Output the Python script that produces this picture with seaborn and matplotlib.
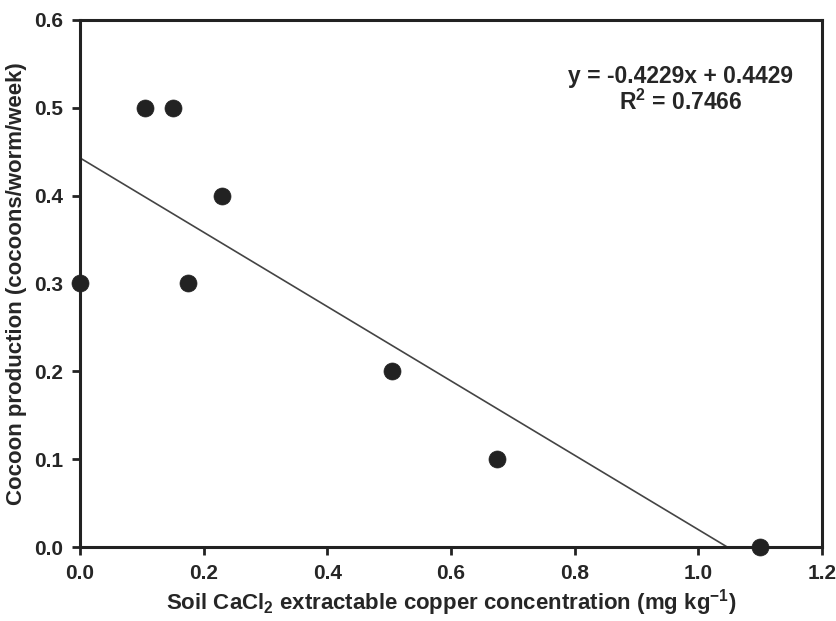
import numpy as np
import pandas as pd
import seaborn as sns
import matplotlib.pyplot as plt

# Данные
copper = [0.0, 0.105, 0.15, 0.175, 0.23, 0.505, 0.675, 1.10]
cocoons = [0.3, 0.5, 0.5, 0.3, 0.4, 0.2, 0.1, 0.0]
slope = -0.4229
intercept = 0.4429
r2 = 0.7466

x_ticks = [0.0, 0.2, 0.4, 0.6, 0.8, 1.0, 1.2]
y_ticks = [0.0, 0.1, 0.2, 0.3, 0.4, 0.5, 0.6]

sns.set_theme(style="ticks")
plt.rcParams["font.family"] = ["Liberation Sans", "DejaVu Sans"]
plt.rcParams["font.weight"] = "bold"
plt.rcParams["mathtext.fontset"] = "custom"
plt.rcParams["mathtext.rm"] = "Liberation Sans:bold"
plt.rcParams["mathtext.default"] = "rm"

df = pd.DataFrame({"x": copper, "y": cocoons})

# Линия регрессии до пересечения с осью X
x_end = -intercept / slope
fit = pd.DataFrame({"x": [0.0, x_end]})
fit["y"] = slope * fit["x"] + intercept

fig = plt.figure(figsize=(8.36, 6.21), dpi=100)
ax = fig.add_axes([0.0957, 0.119, 0.8873, 0.849])

sns.lineplot(data=fit, x="x", y="y", ax=ax, color="#444444", linewidth=1.2)
sns.scatterplot(data=df, x="x", y="y", ax=ax, color="#222222", s=150,
                edgecolor="#222222", linewidth=0.5, zorder=5, clip_on=False)

ax.set_xlim(0, 1.2)
ax.set_ylim(0, 0.6)
ax.set_xticks(x_ticks)
ax.set_yticks(y_ticks)
ax.set_xticklabels([f"{v:.1f}" for v in x_ticks], fontsize=15, fontweight="bold")
ax.set_yticklabels([f"{v:.1f}" for v in y_ticks], fontsize=15, fontweight="bold")
ax.tick_params(direction="out", length=6, width=2, color="#222222", pad=6)
for sp in ax.spines.values():
    sp.set_linewidth(2.2)
    sp.set_color("#222222")

ax.set_xlabel("Soil CaCl$_2$ extractable copper concentration (mg kg$^{-1}$)",
              fontsize=16, fontweight="bold", labelpad=3)
ax.set_ylabel("Cocoon production (cocoons/worm/week)",
              fontsize=16, fontweight="bold", labelpad=5)

ax.text(0.81, 0.892, f"y = {slope:.4f}x + {intercept:.4f}", transform=ax.transAxes,
        ha="center", va="center", fontsize=16.5, fontweight="bold")
ax.text(0.81, 0.843, f"R$^2$ = {r2:.4f}", transform=ax.transAxes,
        ha="center", va="center", fontsize=16.5, fontweight="bold")

plt.savefig("out.png", dpi=100)
plt.close()
